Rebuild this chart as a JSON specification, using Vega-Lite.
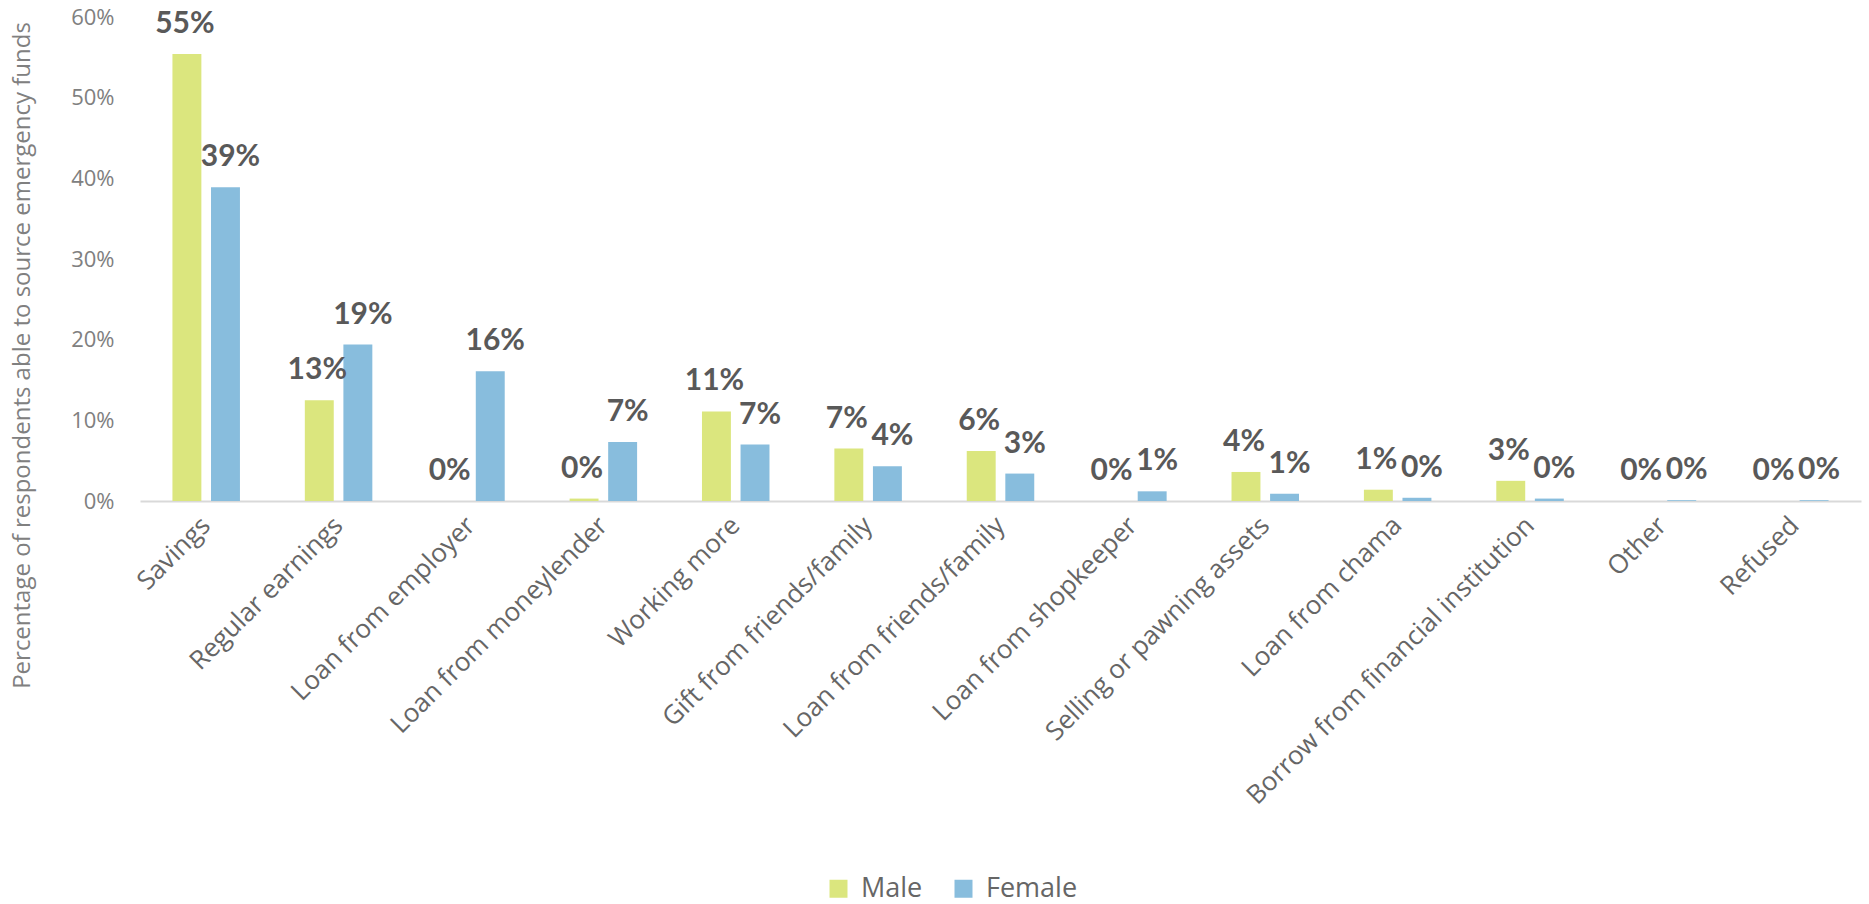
{
  "$schema": "https://vega.github.io/schema/vega-lite/v6.json",
  "width": 1721,
  "height": 484,
  "autosize": {"type": "none"},
  "padding": {"left": 140, "top": 17, "right": 8, "bottom": 403},
  "background": "white",
  "config": {"view": {"stroke": null}, "font": "Open Sans"},
  "data": {"values": [
    {"source": "Savings", "gender": "Male", "value": 0.554},
    {"source": "Savings", "gender": "Female", "value": 0.389},
    {"source": "Regular earnings", "gender": "Male", "value": 0.125},
    {"source": "Regular earnings", "gender": "Female", "value": 0.194},
    {"source": "Loan from employer", "gender": "Male", "value": 0.0},
    {"source": "Loan from employer", "gender": "Female", "value": 0.161},
    {"source": "Loan from moneylender", "gender": "Male", "value": 0.003},
    {"source": "Loan from moneylender", "gender": "Female", "value": 0.073},
    {"source": "Working more", "gender": "Male", "value": 0.111},
    {"source": "Working more", "gender": "Female", "value": 0.070},
    {"source": "Gift from friends/family", "gender": "Male", "value": 0.065},
    {"source": "Gift from friends/family", "gender": "Female", "value": 0.043},
    {"source": "Loan from friends/family", "gender": "Male", "value": 0.062},
    {"source": "Loan from friends/family", "gender": "Female", "value": 0.034},
    {"source": "Loan from shopkeeper", "gender": "Male", "value": 0.0},
    {"source": "Loan from shopkeeper", "gender": "Female", "value": 0.012},
    {"source": "Selling or pawning assets", "gender": "Male", "value": 0.036},
    {"source": "Selling or pawning assets", "gender": "Female", "value": 0.009},
    {"source": "Loan  from chama", "gender": "Male", "value": 0.014},
    {"source": "Loan  from chama", "gender": "Female", "value": 0.004},
    {"source": "Borrow from financial institution", "gender": "Male", "value": 0.025},
    {"source": "Borrow from financial institution", "gender": "Female", "value": 0.003},
    {"source": "Other", "gender": "Male", "value": 0.0},
    {"source": "Other", "gender": "Female", "value": 0.001},
    {"source": "Refused", "gender": "Male", "value": 0.0},
    {"source": "Refused", "gender": "Female", "value": 0.001}
  ]},
  "encoding": {
    "x": {
      "field": "source", "type": "nominal", "sort": null,
      "scale": {"paddingInner": 0.49, "paddingOuter": 0.245},
      "axis": {
        "title": null, "labelAngle": -45, "labelAlign": "right", "labelBaseline": "middle",
        "labelFont": "Open Sans", "labelFontSize": 26, "labelColor": "#666666",
        "labelPadding": 20, "ticks": false, "domainColor": "#d9d9d9", "domainWidth": 2,
        "labelLimit": 700
      }
    },
    "xOffset": {"field": "gender", "type": "nominal", "sort": ["Male", "Female"],
      "scale": {"paddingInner": 0.25, "paddingOuter": 0}},
    "y": {
      "field": "value", "type": "quantitative",
      "scale": {"domain": [0, 0.6], "nice": false},
      "axis": {
        "title": "Percentage of respondents able to source emergency funds",
        "titleFont": "Open Sans", "titleFontSize": 24, "titleFontWeight": "normal", "titleColor": "#808080",
        "titleAngle": -90, "titleAlign": "center", "titleBaseline": "middle",
        "titleX": -118, "titleY": 338,
        "format": ".0%", "values": [0, 0.1, 0.2, 0.3, 0.4, 0.5, 0.6],
        "labelFont": "Open Sans", "labelFontSize": 22, "labelColor": "#808080",
        "labelPadding": 26, "ticks": false, "domain": false, "grid": false
      }
    }
  },
  "layer": [
    {
      "mark": {"type": "bar"},
      "encoding": {
        "color": {
          "field": "gender", "type": "nominal",
          "scale": {"domain": ["Male", "Female"], "range": ["#dbe67e", "#88bddd"]},
          "legend": {
            "title": null, "orient": "none", "direction": "horizontal",
            "legendX": 685, "legendY": 858,
            "symbolType": "square", "symbolSize": 324, "symbolStrokeWidth": 0,
            "labelFont": "Open Sans", "labelFontSize": 27, "labelColor": "#666666",
            "columnPadding": 27, "labelOffset": 9
          }
        }
      }
    },
    {
      "transform": [{"filter": "datum.gender === 'Male'"}],
      "mark": {"type": "text", "dy": -21, "dx": -2, "baseline": "alphabetic", "align": "center",
        "font": "Lato", "fontSize": 30, "fontWeight": "bold", "color": "#595959"},
      "encoding": {
        "text": {"field": "value", "type": "quantitative", "format": ".0%"}
      }
    },
    {
      "transform": [{"filter": "datum.gender === 'Female'"}],
      "mark": {"type": "text", "dy": -21, "dx": 5, "baseline": "alphabetic", "align": "center",
        "font": "Lato", "fontSize": 30, "fontWeight": "bold", "color": "#595959"},
      "encoding": {
        "text": {"field": "value", "type": "quantitative", "format": ".0%"}
      }
    }
  ]
}
